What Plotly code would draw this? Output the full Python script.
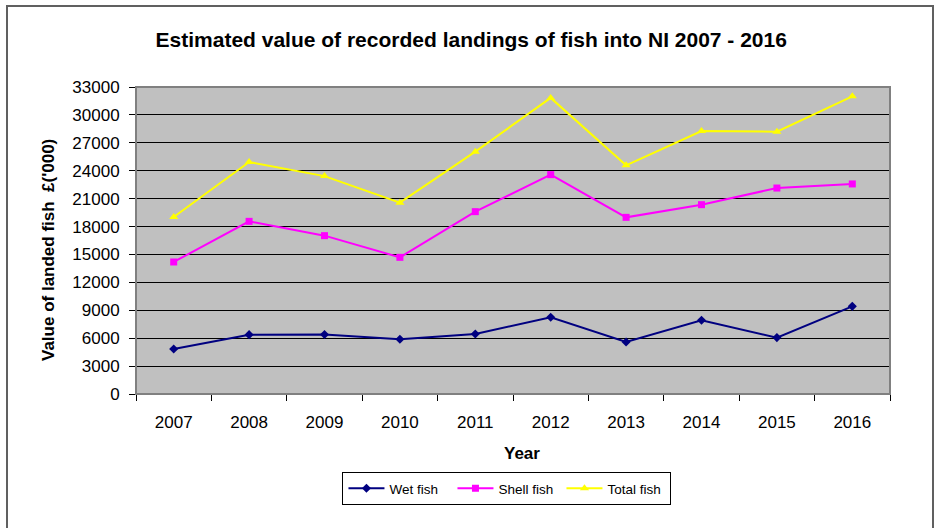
import plotly.graph_objects as go

years = ["2007", "2008", "2009", "2010", "2011", "2012", "2013", "2014", "2015", "2016"]
wet_fish = [4840, 6380, 6400, 5880, 6450, 8250, 5590, 7920, 6060, 9420]
shell_fish = [14190, 18560, 17020, 14690, 19600, 23580, 18990, 20350, 22140, 22580]
total_fish = [19030, 24940, 23420, 20570, 26050, 31830, 24580, 28270, 28200, 32000]
y_ticks = list(range(0, 33001, 3000))
y_tick_labels = [str(v) for v in y_ticks]

FONT = "Liberation Sans, Arial, sans-serif"

fig = go.Figure()
fig.add_trace(go.Scatter(x=years, y=wet_fish, name="Wet fish", mode="lines+markers",
                         line=dict(color="#000080", width=2),
                         marker=dict(symbol="diamond", size=7, color="#000080")))
fig.add_trace(go.Scatter(x=years, y=shell_fish, name="Shell fish", mode="lines+markers",
                         line=dict(color="#FF00FF", width=2),
                         marker=dict(symbol="square", size=7, color="#FF00FF")))
fig.add_trace(go.Scatter(x=years, y=total_fish, name="Total fish", mode="lines+markers",
                         line=dict(color="#FFFF00", width=2),
                         marker=dict(symbol="triangle-up", size=8, color="#FFFF00")))

fig.update_layout(
    width=935, height=528,
    margin=dict(l=136, r=45, t=87, b=134),
    paper_bgcolor="white", plot_bgcolor="#C0C0C0",
    font=dict(family=FONT, size=17, color="black"),
    title=dict(text="<b>Estimated value of recorded landings of fish into NI 2007 - 2016</b>",
               x=0.504, xanchor="center", xref="container", y=0.924, yanchor="middle",
               font=dict(size=21, family=FONT, color="black")),
    showlegend=True,
    legend=dict(orientation="h", x=0.492, xanchor="center", y=-0.254, yanchor="top",
                bordercolor="black", borderwidth=1, bgcolor="white",
                font=dict(size=13.5, family=FONT), itemwidth=36,
                entrywidth=58, entrywidthmode="pixels"),
    xaxis=dict(type="category", tickson="boundaries", ticks="outside", ticklen=6,
               tickcolor="black", showgrid=False, showline=True, linecolor="black",
               linewidth=1, range=[-0.5, 9.5], tickfont=dict(size=17),
               ticklabelstandoff=13),
    yaxis=dict(range=[0, 33000], tickvals=y_ticks, ticktext=y_tick_labels,
               ticks="outside", ticklen=6,
               tickcolor="black", showgrid=True, gridcolor="black", gridwidth=1,
               showline=True, linecolor="black", linewidth=1, zeroline=False,
               tickfont=dict(size=17), ticklabelstandoff=6),
)

# axis titles placed as in the reference
fig.add_annotation(text="<b>Year</b>", xref="paper", yref="paper",
                   x=(522 - 136) / 754, y=(394 - 453) / 307,
                   xanchor="center", yanchor="middle", showarrow=False,
                   font=dict(size=17, family=FONT, color="black"))
fig.add_annotation(text="<b>Value of landed fish  £('000)</b>", xref="paper", yref="paper",
                   x=(48 - 136) / 754, y=(394 - 250) / 307, textangle=-90,
                   xanchor="center", yanchor="middle", showarrow=False,
                   font=dict(size=17, family=FONT, color="black"))

# plot area border (top/right)
fig.add_shape(type="rect", xref="paper", yref="paper", x0=0, x1=1, y0=0, y1=1,
              line=dict(color="#808080", width=2), layer="above")
# outer chart border
fig.add_shape(type="rect", xref="paper", yref="paper",
              x0=(7 - 136) / 754, x1=(933 - 136) / 754,
              y0=(394 - 545) / 307, y1=(394 - 6) / 307,
              line=dict(color="#606060", width=2))

fig.write_html("out.html", config={"displayModeBar": False},
               post_script="document.body.style.margin='0';")
